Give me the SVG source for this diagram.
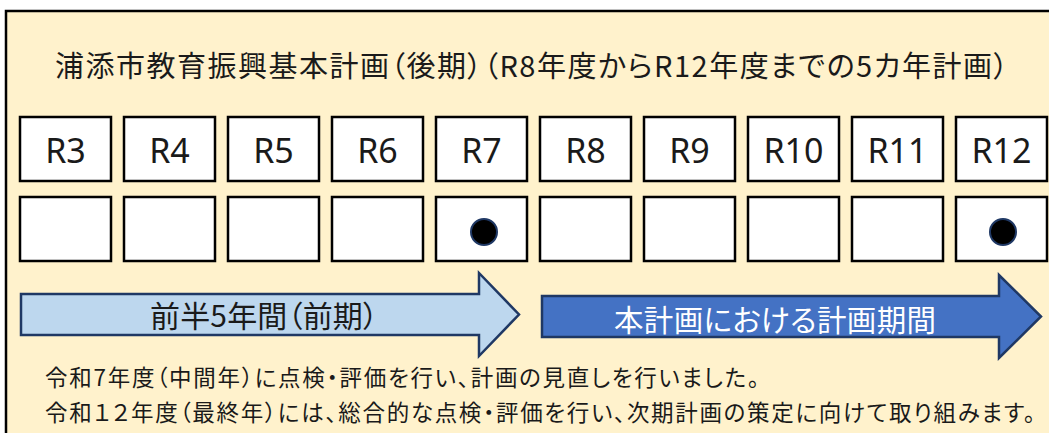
<svg xmlns="http://www.w3.org/2000/svg" width="1049" height="433" viewBox="0 0 1049 433">
<style>
.jp{font-family:"Noto Sans CJK JP","Noto Sans",sans-serif;fill:#1a1a1a;font-feature-settings:"palt"}
.yr rect{fill:#ffffff;stroke:#000000;stroke-width:2.5}
.yr text{font-family:"Noto Sans","Noto Sans CJK JP",sans-serif;font-size:34px;fill:#1a1a1a;text-anchor:middle}
.cell{fill:#ffffff;stroke:#000000;stroke-width:2.5}
.dot{fill:#000000;stroke:#1F3864;stroke-width:2}
</style>
<rect x="6" y="11" width="1060" height="440" fill="#FFF2CC" stroke="#000000" stroke-width="2.5"/>
<g id="title"><text class="jp" x="55" y="77" font-size="29" textLength="953" lengthAdjust="spacing">浦添市教育振興基本計画（後期）（R8年度からR12年度までの5カ年計画）</text></g>
<g id="years" class="yr">
<g id="y-R3"><rect x="20" y="117" width="91" height="64"/><text x="65.5" y="163">R3</text></g>
<g id="y-R4"><rect x="124" y="117" width="91" height="64"/><text x="169.5" y="163">R4</text></g>
<g id="y-R5"><rect x="228" y="117" width="91" height="64"/><text x="273.5" y="163">R5</text></g>
<g id="y-R6"><rect x="332" y="117" width="91" height="64"/><text x="377.5" y="163">R6</text></g>
<g id="y-R7"><rect x="436" y="117" width="91" height="64"/><text x="481.5" y="163">R7</text></g>
<g id="y-R8"><rect x="540" y="117" width="91" height="64"/><text x="585.5" y="163">R8</text></g>
<g id="y-R9"><rect x="644" y="117" width="91" height="64"/><text x="689.5" y="163">R9</text></g>
<g id="y-R10"><rect x="748" y="117" width="91" height="64"/><text x="793.5" y="163">R10</text></g>
<g id="y-R11"><rect x="852" y="117" width="91" height="64"/><text x="897.5" y="163">R11</text></g>
<g id="y-R12"><rect x="956" y="117" width="91" height="64"/><text x="1001.5" y="163">R12</text></g>
</g>
<g id="marks">
<g id="m-R3"><rect class="cell" x="20" y="197" width="91" height="64"/></g>
<g id="m-R4"><rect class="cell" x="124" y="197" width="91" height="64"/></g>
<g id="m-R5"><rect class="cell" x="228" y="197" width="91" height="64"/></g>
<g id="m-R6"><rect class="cell" x="332" y="197" width="91" height="64"/></g>
<g id="m-R7"><rect class="cell" x="436" y="197" width="91" height="64"/><circle class="dot" cx="484" cy="232" r="13"/></g>
<g id="m-R8"><rect class="cell" x="540" y="197" width="91" height="64"/></g>
<g id="m-R9"><rect class="cell" x="644" y="197" width="91" height="64"/></g>
<g id="m-R10"><rect class="cell" x="748" y="197" width="91" height="64"/></g>
<g id="m-R11"><rect class="cell" x="852" y="197" width="91" height="64"/></g>
<g id="m-R12"><rect class="cell" x="956" y="197" width="91" height="64"/><circle class="dot" cx="1003" cy="232" r="13"/></g>
</g>
<g id="connectors">
<g id="arrow-first">
<polygon points="21,294 479,294 479,273 519,314.5 479,356 479,335 21,335" fill="#BDD7EE" stroke="#1F3864" stroke-width="2.5" stroke-linejoin="miter"/>
<text class="jp" x="150" y="327" font-size="30" textLength="228" lengthAdjust="spacing">前半5年間（前期）</text>
</g>
<g id="arrow-plan">
<polygon points="542,296 999,296 999,275 1041,316.5 999,358 999,337 542,337" fill="#4472C4" stroke="#1F3864" stroke-width="2.5" stroke-linejoin="miter"/>
<text x="614" y="331" font-size="29.5" textLength="322" lengthAdjust="spacing" style="font-family:'Noto Sans CJK JP','Noto Sans',sans-serif;fill:#ffffff;font-feature-settings:'palt'">本計画における計画期間</text>
</g>
</g>
<g id="notes">
<text class="jp" x="45" y="386" font-size="22.5" textLength="714" lengthAdjust="spacing">令和7年度（中間年）に点検・評価を行い、計画の見直しを行いました。</text>
<text class="jp" x="45" y="421" font-size="22.5" textLength="990" lengthAdjust="spacing">令和１２年度（最終年）には、総合的な点検・評価を行い、次期計画の策定に向けて取り組みます。</text>
</g>
</svg>
